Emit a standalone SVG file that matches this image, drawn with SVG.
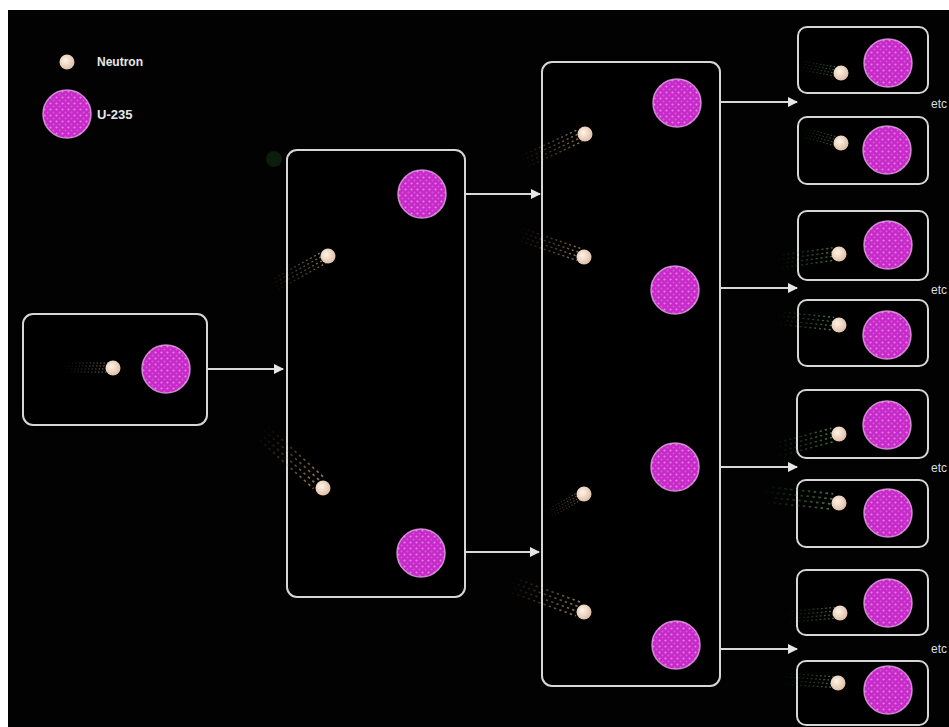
<svg xmlns="http://www.w3.org/2000/svg" xmlns:xlink="http://www.w3.org/1999/xlink" width="949" height="727" viewBox="0 0 949 727">
  <style>
    .box { fill: #000; stroke: #d6d6d6; stroke-width: 2; }
    .conn { stroke: #d8d8d8; stroke-width: 2; fill: none; marker-end: url(#head); }
    .lbl { font-family: "Liberation Sans", Arial, sans-serif; fill: #e8e8e8; font-weight: bold; }
    .etc { font-family: "Liberation Sans", Arial, sans-serif; fill: #dcdcdc; font-size: 12px; }
  </style>
  <defs>
    <marker id="head" viewBox="0 0 10 10" refX="9" refY="5" markerWidth="5" markerHeight="5" orient="auto" markerUnits="strokeWidth">
      <path d="M0,0 L10,5 L0,10 z" fill="#e6e6e6"/>
    </marker>
    <pattern id="dots" width="6" height="6" patternUnits="userSpaceOnUse">
      <rect width="6" height="6" fill="#c62ac8"/>
      <circle cx="1.5" cy="1.5" r="1.1" fill="#e77fe6"/>
      <circle cx="4.5" cy="4.5" r="1.0" fill="#d955d8"/>
    </pattern>
    <radialGradient id="nGrad" cx="0.4" cy="0.4" r="0.6">
      <stop offset="0" stop-color="#fff4e8"/>
      <stop offset="1" stop-color="#e0c0a6"/>
    </radialGradient>
    <linearGradient id="tailY" gradientUnits="userSpaceOnUse" x1="-50" y1="0" x2="0" y2="0">
      <stop offset="0" stop-color="#b08a50" stop-opacity="0"/>
      <stop offset="1" stop-color="#e8c888" stop-opacity="0.7"/>
    </linearGradient>
    <linearGradient id="tailG" gradientUnits="userSpaceOnUse" x1="-45" y1="0" x2="0" y2="0">
      <stop offset="0" stop-color="#4a8a4a" stop-opacity="0"/>
      <stop offset="1" stop-color="#7ec07a" stop-opacity="0.7"/>
    </linearGradient>
    <!-- motion streaks behind a neutron, pointing along -x -->
    <g id="trailY" stroke="url(#tailY)" stroke-width="1" stroke-dasharray="1.5 2" fill="none">
      <line x1="-48" y1="-5" x2="-4" y2="-5"/>
      <line x1="-52" y1="-2" x2="-4" y2="-2"/>
      <line x1="-46" y1="1" x2="-4" y2="1"/>
      <line x1="-50" y1="4" x2="-4" y2="4"/>
    </g>
    <g id="trailG" stroke="url(#tailG)" stroke-width="1" stroke-dasharray="1.5 2" fill="none">
      <line x1="-40" y1="-5" x2="-4" y2="-5"/>
      <line x1="-44" y1="-2" x2="-4" y2="-2"/>
      <line x1="-38" y1="1" x2="-4" y2="1"/>
      <line x1="-42" y1="4" x2="-4" y2="4"/>
    </g>
    <g id="neutron">
      <circle r="7.5" fill="url(#nGrad)"/>
    </g>
    <g id="u235">
      <circle r="24" fill="url(#dots)" stroke="#e9a4ea" stroke-width="1.5" stroke-opacity="0.8"/>
    </g>
  </defs>

  <!-- page margin and dark field -->
  <rect width="949" height="727" fill="#ffffff"/>
  <rect x="8" y="10" width="941" height="717" fill="#020203"/>

  <!-- legend -->
  <g id="legend">
    <use href="#neutron" x="67" y="62"/>
    <text class="lbl" x="97" y="66" font-size="12">Neutron</text>
    <use href="#u235" x="67" y="114"/>
    <text class="lbl" x="97" y="119" font-size="13">U-235</text>
  </g>

  <circle cx="274" cy="159" r="8" fill="#143814" opacity="0.5"/>

  <!-- connectors -->
  <g id="connectors">
    <line class="conn" x1="207" y1="369" x2="283" y2="369"/>
    <line class="conn" x1="465" y1="194" x2="540" y2="194"/>
    <line class="conn" x1="465" y1="552" x2="539" y2="552"/>
    <line class="conn" x1="720" y1="102" x2="797" y2="102"/>
    <line class="conn" x1="720" y1="288" x2="797" y2="288"/>
    <line class="conn" x1="720" y1="467" x2="797" y2="467"/>
    <line class="conn" x1="720" y1="649" x2="797" y2="649"/>
  </g>

  <!-- generation 1 -->
  <g id="stage1">
    <rect class="box" x="23" y="314" width="184" height="111" rx="10"/>
    <use href="#trailY" transform="translate(113,368)"/>
    <use href="#neutron" x="113" y="368"/>
    <use href="#u235" x="166" y="369"/>
  </g>

  <!-- generation 2 -->
  <g id="stage2">
    <rect class="box" x="287" y="150" width="178" height="447" rx="10"/>
    <use href="#u235" x="422" y="194"/>
    <use href="#trailY" transform="translate(328,256) rotate(-29) scale(1.3)"/>
    <use href="#neutron" x="328" y="256"/>
    <use href="#trailY" transform="translate(323,488) rotate(42) scale(1.7)"/>
    <use href="#neutron" x="323" y="488"/>
    <use href="#u235" x="421" y="553"/>
  </g>

  <!-- generation 3 -->
  <g id="stage3">
    <rect class="box" x="542" y="62" width="178" height="624" rx="10"/>
    <use href="#u235" x="677" y="103"/>
    <use href="#trailY" transform="translate(585,134) rotate(-25) scale(1.4)"/>
    <use href="#neutron" x="585" y="134"/>
    <use href="#u235" x="675" y="290"/>
    <use href="#trailY" transform="translate(584,257) rotate(19) scale(1.4)"/>
    <use href="#neutron" x="584" y="257"/>
    <use href="#u235" x="675" y="467"/>
    <use href="#trailY" transform="translate(584,494) rotate(-30) scale(0.9)"/>
    <use href="#neutron" x="584" y="494"/>
    <use href="#u235" x="676" y="645"/>
    <use href="#trailY" transform="translate(584,612) rotate(20) scale(1.6)"/>
    <use href="#neutron" x="584" y="612"/>
  </g>

  <!-- generation 4 -->
  <g id="stage4a">
    <rect class="box" x="798" y="27" width="130" height="66" rx="9"/>
    <use href="#trailG" transform="translate(841,73) rotate(10)"/>
    <use href="#neutron" x="841" y="73"/>
    <use href="#u235" x="888" y="63"/>
  </g>
  <g id="stage4b">
    <rect class="box" x="798" y="117" width="130" height="67" rx="9"/>
    <use href="#trailG" transform="translate(841,143) rotate(15)"/>
    <use href="#neutron" x="841" y="143"/>
    <use href="#u235" x="887" y="150"/>
  </g>
  <text class="etc" x="931" y="108">etc</text>

  <g id="stage4c">
    <rect class="box" x="798" y="211" width="130" height="69" rx="9"/>
    <use href="#trailG" transform="translate(839,254) rotate(-8) scale(1.4)"/>
    <use href="#neutron" x="839" y="254"/>
    <use href="#u235" x="888" y="245"/>
  </g>
  <g id="stage4d">
    <rect class="box" x="798" y="300" width="130" height="66" rx="9"/>
    <use href="#trailG" transform="translate(839,325) rotate(6) scale(1.4)"/>
    <use href="#neutron" x="839" y="325"/>
    <use href="#u235" x="887" y="335"/>
  </g>
  <text class="etc" x="931" y="294">etc</text>

  <g id="stage4e">
    <rect class="box" x="797" y="390" width="131" height="68" rx="9"/>
    <use href="#trailG" transform="translate(839,434) rotate(-15) scale(1.5)"/>
    <use href="#neutron" x="839" y="434"/>
    <use href="#u235" x="887" y="425"/>
  </g>
  <g id="stage4f">
    <rect class="box" x="797" y="480" width="131" height="67" rx="9"/>
    <use href="#trailG" transform="translate(839,503) rotate(6) scale(1.7)"/>
    <use href="#neutron" x="839" y="503"/>
    <use href="#u235" x="888" y="513"/>
  </g>
  <text class="etc" x="931" y="472">etc</text>

  <g id="stage4g">
    <rect class="box" x="797" y="570" width="131" height="65" rx="9"/>
    <use href="#trailG" transform="translate(840,613) rotate(-5) scale(1.2)"/>
    <use href="#neutron" x="840" y="613"/>
    <use href="#u235" x="888" y="603"/>
  </g>
  <g id="stage4h">
    <rect class="box" x="797" y="661" width="131" height="64" rx="9"/>
    <use href="#trailG" transform="translate(838,683) rotate(4) scale(1.2)"/>
    <use href="#neutron" x="838" y="683"/>
    <use href="#u235" x="888" y="690"/>
  </g>
  <text class="etc" x="931" y="653">etc</text>
</svg>
